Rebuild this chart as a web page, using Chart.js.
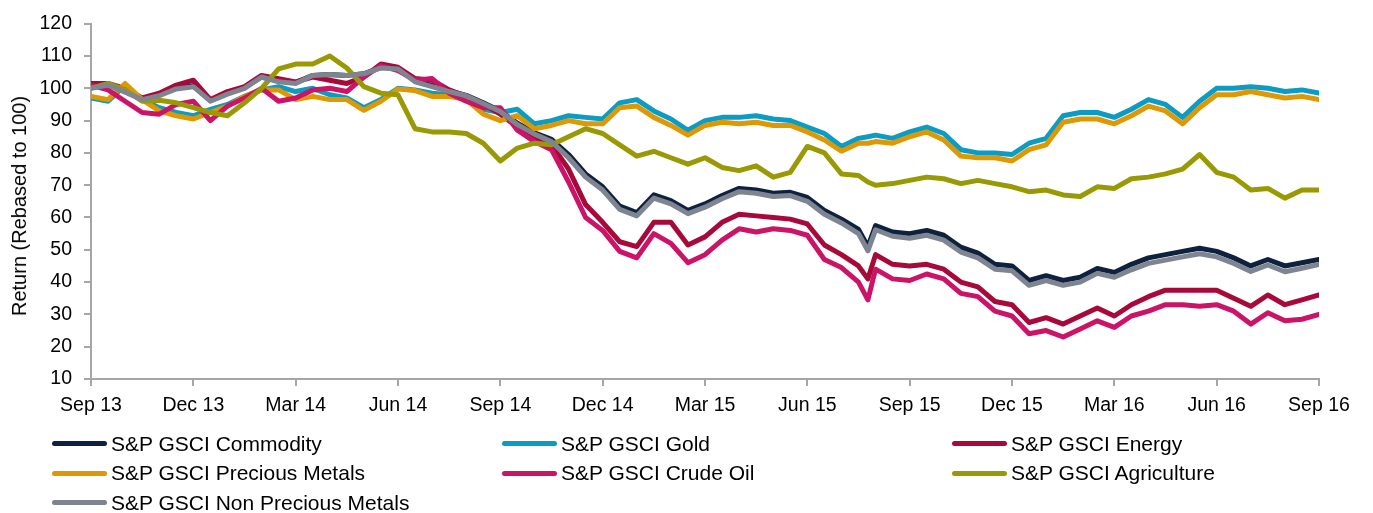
<!DOCTYPE html>
<html><head><meta charset="utf-8">
<script src="https://cdn.jsdelivr.net/npm/chart.js@4/dist/chart.umd.min.js"></script>
<style>
html,body{margin:0;padding:0;background:#fff;}
#wrap{position:relative;width:1373px;height:513px;overflow:hidden;}
canvas{position:absolute;left:0;top:0;}
.lg{position:absolute;display:flex;align-items:center;height:30px;font-family:"Liberation Sans",Arial,sans-serif;font-size:21px;color:#000;white-space:nowrap;}
.lg i{display:inline-block;width:55px;height:5px;border-radius:3px;margin-right:4px;}
#ytitle{position:absolute;left:19px;top:206px;width:0;height:0;}
#ytitle span{position:absolute;left:0;top:0;transform:translate(-50%,-50%) rotate(-90deg);white-space:nowrap;font-family:"Liberation Sans",Arial,sans-serif;font-size:20px;line-height:24px;color:#000;}
</style></head>
<body><div id="wrap"><canvas id="c" width="1373" height="513"></canvas><div id="ytitle"><span>Return (Rebased to 100)</span></div><div id="legend"></div></div>
<script>
// Quarter tick labels (every 6 half-month periods)
const tickLabels = ['Sep 13','Dec 13','Mar 14','Jun 14','Sep 14','Dec 14','Mar 15','Jun 15','Sep 15','Dec 15','Mar 16','Jun 16','Sep 16'];

const seriesNames = ['S&P GSCI Commodity','S&P GSCI Gold','S&P GSCI Energy','S&P GSCI Precious Metals','S&P GSCI Crude Oil','S&P GSCI Agriculture','S&P GSCI Non Precious Metals'];
const seriesColors = ['#0e2240','#0a9cc2','#a8093b','#de9803','#cb1468','#999a03','#7f8590'];

// Sample dates in half-month periods since Sep 2013 (extra sample at the Aug 2015 sell-off)
const periods = [0,1,2,3,4,5,6,7,8,9,10,11,12,13,14,15,16,17,18,19,20,21,22,23,24,25,26,27,28,29,30,31,32,33,34,35,36,37,38,39,40,41,42,43,44,45,45.55,46,47,48,49,50,51,52,53,54,55,56,57,58,59,60,61,62,63,64,65,66,67,68,69,70,71,72];

// Readings (rebased to 100)
const commodity = [100.3,101.3,99,96.8,98,100,100.8,96.3,98.5,100.2,103.5,102.3,101.8,104,104.3,104,104.5,106.5,106.3,102.3,100.8,99.2,97.8,95.5,93,89.2,86.2,84.2,79.5,73.5,69.5,63.5,61.5,67,65.2,62.2,64.2,66.8,69,68.5,67.5,67.8,66.2,62.2,59.5,56.3,51,57.5,55.5,55,56,54.5,50.8,49,45.5,45,40.5,42,40.5,41.5,44.2,43,45.5,47.5,48.5,49.5,50.5,49.5,47.5,45,47,45,46,47];
const gold = [97,96,101,96.5,94,92.5,91.5,93.5,95,97.5,99.5,100.5,99,100,98,97,94,96.5,100,99.5,98.5,98,97,93.5,92.5,93.5,89,90,91.5,91,90.5,95.5,96.5,93,90.5,87,90,91,91,91.5,90.5,90,88,86,82,84.5,85,85.5,84.5,86.5,88,86,81,80,80,79.5,83,84.5,91.5,92.5,92.5,91,93.5,96.5,95,91,96,100,100,100.5,100,99,99.5,98.5];
const energy = [101.5,101.5,100,97,98.5,101,102.5,96.5,99,100.5,104,103,102,103.5,102.5,101.5,103.5,107.5,106.5,103,102.5,99.5,97.5,95,92,88,84.5,82.5,75,64,58.5,52.5,51,58.5,58.5,51.5,54,58.5,61,60.5,60,59.5,58,51.5,48.5,45,41,48.5,45.5,45,45.5,44,40,38.5,34,33,27.5,29,27,29.5,32,29.5,33,35.5,37.5,37.5,37.5,37.5,35,32.5,36,33,34.5,36];
const preciousMetals = [97.5,96.5,101.5,96.5,93,91.5,90.5,92.5,94.5,97.5,99.5,99.5,96.5,97.5,96.5,96.5,93.2,96,99.8,99.3,97.5,97.5,96.5,92,90,91.5,87.5,88.5,90,89,89,94,94.5,91,88.5,85.5,88.5,89.5,89,89.5,88.5,88.5,86.5,84,80.5,83,83,83.5,83,85,86.5,84,79,78.5,78.5,77.5,81,82.5,89.5,90.5,90.5,89,91.5,94.5,93,89,94,98,98,99,98,97,97.5,96.5];
const crudeOil = [101,99.5,96,92.5,92,95,96,90,94.5,97,100,96,97,99.5,100,99,103.5,107,105.5,102.5,103,98.5,96,94,94,87,83.5,81,71,60,56,49.5,47.5,55,52,46,48.5,53,56.5,55.5,56.5,56,54.5,47,44.5,40,34.5,44,41,40.5,42.5,41,36.5,35.5,31,29.5,24,25,23,25.5,28,26,29.5,31,33,33,32.5,33,31,27,30.5,28,28.5,30];
const agriculture = [100,101.5,99.5,96,96.3,95.5,94,92.5,91.5,95.5,100,106,107.5,107.5,110,106.3,100.5,98.5,98,87.5,86.5,86.5,86,83,77.5,81.5,83,82.5,85,87.5,86,82.5,79,80.5,78.5,76.5,78.5,75.5,74.5,76,72.5,74,82,80,73.5,73,71,70,70.5,71.5,72.5,72,70.5,71.5,70.5,69.5,68,68.5,67,66.5,69.5,69,72,72.5,73.5,75,79.5,74,72.5,68.5,69,66,68.5,68.5];
const nonPreciousMetals = [100,101,98.8,96.5,97.7,99.8,100.5,96,98.2,100,103.5,102,101.5,104,104.3,104,104.5,106.3,106,102,100.5,99,97.7,95.3,92.8,88.8,85.8,83.5,78.5,72.5,68.5,62.5,60.5,66,64.2,61.2,63.2,65.8,68,67.5,66.5,66.8,65,61,58.3,55,49.7,56.2,54.2,53.6,54.5,53,49.3,47.5,44,43.5,39,40.5,39,40,42.7,41.5,43.8,45.8,46.8,47.8,48.8,47.8,45.8,43.3,45.3,43.2,44.3,45.5];

const seriesValues = [commodity, gold, energy, preciousMetals, crudeOil, agriculture, nonPreciousMetals];

const FONT = '"Liberation Sans", Arial, sans-serif';

const datasets = seriesValues.map((vals, i) => ({
  label: seriesNames[i],
  data: vals.map((v, k) => ({x: periods[k], y: v})),
  borderColor: seriesColors[i],
  backgroundColor: seriesColors[i],
  borderWidth: 5,
  pointRadius: 0,
  tension: 0,
  fill: false,
  borderJoinStyle: 'round',
  borderCapStyle: 'round',
  order: seriesValues.length - i
}));

new Chart(document.getElementById('c'), {
  type: 'line',
  data: { datasets },
  options: {
    responsive: false,
    animation: false,
    devicePixelRatio: 1,
    layout: { padding: { top: 17, right: 54, bottom: 0, left: 0 } },
    plugins: { legend: { display: false }, tooltip: { enabled: false } },
    scales: {
      x: {
        type: 'linear', min: 0, max: periods[periods.length - 1],
        ticks: { stepSize: 6, autoSkip: false, maxRotation: 0, padding: 8, color: '#000',
          font: { family: FONT, size: 19.5 },
          callback: (v) => tickLabels[Math.round(v / 6)] },
        grid: { drawOnChartArea: false, drawTicks: true, tickLength: 7, color: '#a6a6a6', lineWidth: 2 },
        border: { display: true, color: '#a6a6a6', width: 2 },
        afterFit: (s) => { s.height = 134; }
      },
      y: {
        min: 10, max: 120,
        ticks: { stepSize: 10, padding: 12, color: '#000', font: { family: FONT, size: 19.5 } },
        grid: { drawOnChartArea: false, drawTicks: true, tickLength: 7, color: '#a6a6a6', lineWidth: 2 },
        border: { display: true, color: '#a6a6a6', width: 2 },
        title: { display: false },
        afterFit: (s) => { s.width = 91; }
      }
    }
  }
});

// Legend laid out in three fixed columns like the reference
const legend = document.getElementById('legend');
const rowCenters = [443.5, 473, 502.5];
seriesNames.forEach((name, i) => {
  const col = i % 3, row = Math.floor(i / 3);
  const d = document.createElement('div');
  d.className = 'lg';
  d.style.left = (52 + col * 450) + 'px';
  d.style.top = (rowCenters[row] - 15) + 'px';
  const m = document.createElement('i');
  m.style.background = seriesColors[i];
  d.appendChild(m);
  d.appendChild(document.createTextNode(name));
  legend.appendChild(d);
});
</script>
</body></html>
